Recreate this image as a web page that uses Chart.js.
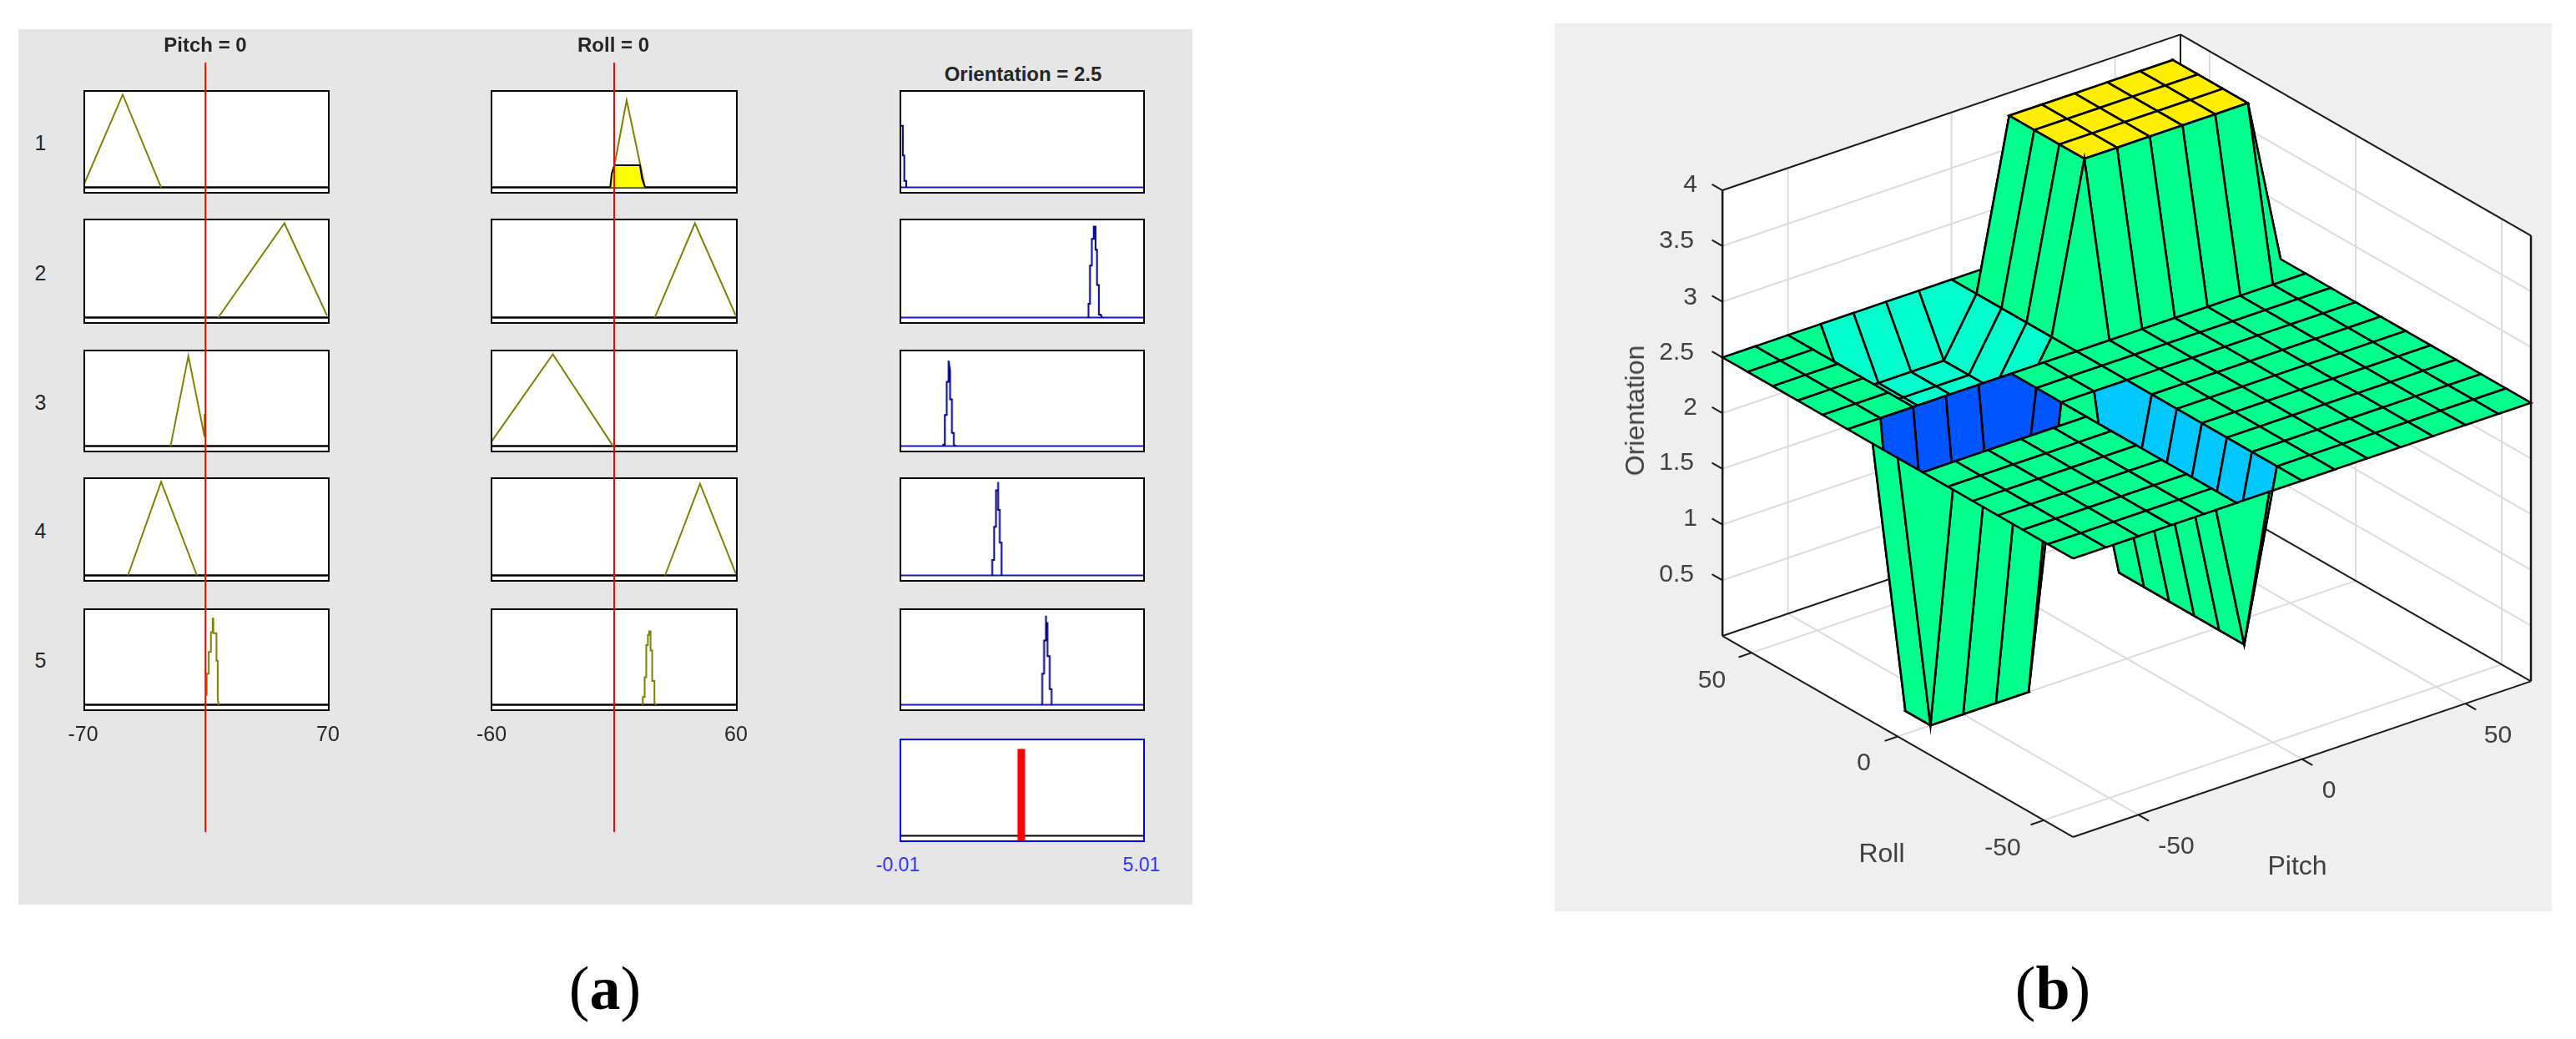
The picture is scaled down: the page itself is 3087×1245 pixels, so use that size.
<!DOCTYPE html>
<html>
<head>
<meta charset="utf-8">
<title>Rule viewer and control surface</title>
<script src="https://cdn.jsdelivr.net/npm/chart.js@4"></script>
<style>
    html, body { margin: 0; padding: 0; background: #fff; }
    #page { position: relative; width: 3087px; height: 1245px; overflow: hidden; }
    #page canvas { position: absolute; }
    .bg { position: absolute; }
    .txt { position: absolute; white-space: nowrap; font-family: "Liberation Sans", Arial, sans-serif; transform: translate(-50%, -50%); line-height: 1; }
</style>
</head>
<body>
<div id="page"></div>
<script>
// ---- Panel (a): membership functions, [input value, degree] per rule row ----
const pitchRange = [-70, 70];
const rollRange = [-60, 60];
const orientationRange = [-0.01, 5.01];
const pitchInput = -0.6;
const rollInput = 0;
const orientationOutput = 2.48;

const pitchRule1 = [[-70, 0.04], [-48, 1], [-26, 0]];
const pitchRule2 = [[6.7, 0], [44.6, 1], [69, 0.02]];
const pitchRule3 = [[-20.6, 0], [-10.4, 0.98], [-1.1, 0.1], [-1.1, 0.35]];
const pitchRule4 = [[-45, 0], [-26, 1], [-5.5, 0]];
const pitchRule5 = [[0.1, 0.1], [0.1, 0.34], [1.3, 0.34], [1.3, 0.577], [2.5, 0.577], [2.5, 0.79], [3.5, 0.79], [3.5, 0.937], [3.9, 0.937], [3.9, 0.78], [5.7, 0.78], [5.7, 0.48], [6.4, 0.48], [6.4, 0.07], [6.9, 0]];

const rollRule1 = [[-1.9, 0], [6.1, 0.94], [15.1, 0]];
const rollRule2 = [[19.9, 0], [39.5, 1], [59.5, 0.02]];
const rollRule3 = [[-60, 0.05], [-30, 1], [-0.5, 0]];
const rollRule4 = [[24.9, 0], [42, 0.98], [59.5, 0.02]];
const rollRule5 = [[14, 0], [14, 0.085], [14.9, 0.085], [14.9, 0.3], [15.7, 0.3], [15.7, 0.65], [16.5, 0.65], [16.5, 0.76], [17.1, 0.76], [17.1, 0.8], [17.8, 0.8], [17.8, 0.59], [18.6, 0.59], [18.6, 0.26], [19.7, 0.26], [19.7, 0.02], [20.7, 0]];
const rollFiring = [[-1.9, 0], [-1.2, 0.15], [0.1, 0.24], [12.6, 0.24], [13.6, 0.1], [15.1, 0]];

const outRule1 = [[-0.01, 0.875], [-0.01, 0.665], [0.04, 0.665], [0.04, 0.344], [0.07, 0.344], [0.07, 0.07], [0.11, 0.07], [0.11, 0]];
const outRule2 = [[3.864, 0], [3.864, 0.145], [3.895, 0.145], [3.895, 0.55], [3.933, 0.55], [3.933, 0.835], [3.973, 0.835], [3.973, 0.965], [4.01, 0.965], [4.01, 0.72], [4.04, 0.72], [4.04, 0.345], [4.08, 0.345], [4.08, 0.03], [4.117, 0.03], [4.14, 0]];
const outRule3 = [[0.875, 0], [0.875, 0.016], [0.906, 0.016], [0.906, 0.34], [0.945, 0.34], [0.945, 0.7], [0.975, 0.7], [0.975, 0.93], [0.99, 0.93], [1.014, 0.82], [1.014, 0.51], [1.052, 0.51], [1.052, 0.145], [1.09, 0.145], [1.09, 0.016], [1.13, 0]];
const outRule4 = [[1.882, 0], [1.882, 0.165], [1.92, 0.165], [1.92, 0.52], [1.96, 0.52], [1.96, 0.91], [2.004, 0.91], [2.004, 1], [2.004, 0.7], [2.036, 0.7], [2.036, 0.35], [2.074, 0.35], [2.074, 0]];
const outRule5 = [[2.912, 0], [2.912, 0.34], [2.95, 0.34], [2.95, 0.7], [2.988, 0.7], [2.988, 0.97], [2.988, 0.89], [3.02, 0.89], [3.02, 0.53], [3.066, 0.53], [3.066, 0.17], [3.104, 0.17], [3.104, 0]];

const ruleNumbers = ['1', '2', '3', '4', '5'];

// ---- Panel (b): control surface, one row of orientation per roll value ----
const pitchGrid = [-70, -60, -50, -40, -30, -20, -10, 0, 10, 20, 30, 40, 50, 60, 70];
const rollGrid = [-60, -51.43, -42.86, -34.29, -25.71, -17.14, -8.57, 0, 8.57, 17.14, 25.71, 34.29, 42.86, 51.43, 60];
const orientationGrid = [
    [2.5, 2.5, 2.5, 2.5, 2.5, 2.5, 2.5, 2.5, 2.5, 2.5, 2.5, 2.5, 2.5, 2.5, 2.5],
    [2.5, 2.5, 2.5, 2.5, 2.5, 2.5, 1, 2.5, 2.5, 2.5, 2.5, 2.5, 2.5, 2.5, 2.5],
    [2.5, 2.5, 2.5, 2.5, 2.5, 2.5, 1, 2.5, 2.5, 2.5, 2.5, 2.5, 2.5, 2.5, 2.5],
    [2.5, 2.5, 2.5, 2.5, 2.5, 2.5, 1, 2.5, 2.5, 2.5, 2.5, 2.5, 2.5, 2.5, 2.5],
    [2.5, 2.5, 2.5, 2.5, 2.5, 2.5, 1, 2.5, 2.5, 2.5, 2.5, 2.5, 2.5, 2.5, 2.5],
    [2.5, 2.5, 2.5, 2.5, 2.5, 2.5, 1, 2.5, 2.5, 2.5, 2.5, 2.5, 2.5, 2.5, 2.5],
    [2.5, 2.5, 2.5, 2.5, 2.5, 2.5, 1, 2.5, 2.5, 2.5, 2.5, 2.5, 2.5, 2.5, 2.5],
    [2.5, 0, 0, 0, 0, 2.5, 2.5, 2.5, 2.5, 2.5, 2.5, 2.5, 2.5, 2.5, 2.5],
    [2.5, 0, 0, 0, 0, 2.5, 2.5, 2.5, 2.5, 2.5, 2.5, 2.5, 2.5, 2.5, 2.5],
    [2.5, 2.5, 2.5, 2.5, 2.5, 2.5, 2.5, 2.5, 2.5, 2.5, 2.5, 2.5, 2.5, 2.5, 2.5],
    [2.5, 2.5, 2.5, 2, 2, 2, 2, 2.5, 4, 4, 4, 4, 4, 4, 2.5],
    [2.5, 2.5, 2.5, 2, 2, 2, 2, 2.5, 4, 4, 4, 4, 4, 4, 2.5],
    [2.5, 2.5, 2.5, 2, 2, 2, 2, 2.5, 4, 4, 4, 4, 4, 4, 2.5],
    [2.5, 2.5, 2.5, 2, 2, 2, 2, 2.5, 4, 4, 4, 4, 4, 4, 2.5],
    [2.5, 2.5, 2.5, 2.5, 2.5, 2.5, 2.5, 2.5, 2.5, 2.5, 2.5, 2.5, 2.5, 2.5, 2.5]
];
const orientationTicks = [0.5, 1, 1.5, 2, 2.5, 3, 3.5, 4];
const pitchTicks = [-50, 0, 50];
const rollTicks = [50, 0, -50];

// Colour of a surface cell comes from the height of its first corner
const surfaceColors = { 0: '#0055ff', 1: '#00c8ff', 2: '#00ffcc', 2.5: '#00ff8c', 4: '#ffee00' };

const OLIVE = '#808000';
const NAVY = '#000080';
const page = document.getElementById('page');

function addBox(left, top, width, height, color) {
    const div = document.createElement('div');
    div.className = 'bg';
    div.style.cssText = `left:${left}px;top:${top}px;width:${width}px;height:${height}px;background:${color}`;
    page.appendChild(div);
}

function addText(text, x, y, size, options) {
    const opts = options || {};
    const div = document.createElement('div');
    div.className = 'txt';
    div.innerHTML = text;
    div.style.left = x + 'px';
    div.style.top = y + 'px';
    div.style.fontSize = size + 'px';
    div.style.color = opts.color || '#262626';
    if (opts.bold) div.style.fontWeight = 'bold';
    if (opts.family) div.style.fontFamily = opts.family;
    if (opts.rotate) div.style.transform = `translate(-50%, -50%) rotate(${opts.rotate}deg)`;
    page.appendChild(div);
}

function addChart(left, top, width, height, config) {
    const canvas = document.createElement('canvas');
    canvas.width = width;
    canvas.height = height;
    canvas.style.left = left + 'px';
    canvas.style.top = top + 'px';
    canvas.style.width = width + 'px';
    canvas.style.height = height + 'px';
    page.appendChild(canvas);
    return new Chart(canvas.getContext('2d'), config);
}

function lineSet(points, color, width, extra) {
    return Object.assign({
        data: points.map(p => ({ x: p[0], y: p[1] })),
        borderColor: color,
        borderWidth: width,
        pointRadius: 0,
        showLine: true,
        tension: 0,
        fill: false
    }, extra || {});
}

const baseOptions = {
    responsive: false,
    animation: false,
    events: [],
    plugins: { legend: { display: false }, tooltip: { enabled: false } }
};

// White face and frame of a small axes box
function framePlugin(color) {
    return {
        id: 'frame',
        beforeDraw(chart) {
            const a = chart.chartArea;
            chart.ctx.fillStyle = '#fff';
            chart.ctx.fillRect(a.left, a.top, a.width, a.height);
        },
        afterDraw(chart) {
            const a = chart.chartArea;
            chart.ctx.strokeStyle = color;
            chart.ctx.lineWidth = 2;
            chart.ctx.strokeRect(a.left, a.top, a.width, a.height);
        }
    };
}

function addRulePanel(left, top, width, height, range, sets, frameColor) {
    const pad = 2;
    return addChart(left - pad, top - pad, width + pad * 2, height + pad * 2, {
        type: 'scatter',
        data: { datasets: sets },
        plugins: [framePlugin(frameColor)],
        options: Object.assign({}, baseOptions, {
            layout: { padding: pad },
            scales: {
                x: { type: 'linear', min: range[0], max: range[1], display: false },
                y: { type: 'linear', min: -0.058, max: 1.04, display: false }
            }
        })
    });
}

function addInputLine(left, width, range, value) {
    return addChart(left, 75, width, 922, {
        type: 'scatter',
        data: { datasets: [lineSet([[value, 0], [value, 1]], '#ff0000', 2)] },
        options: Object.assign({}, baseOptions, {
            layout: { padding: 0 },
            scales: {
                x: { type: 'linear', min: range[0], max: range[1], display: false },
                y: { type: 'linear', min: 0, max: 1, display: false }
            }
        })
    });
}

function drawRuleViewer() {
    addBox(22, 35, 1407, 1049, '#e6e6e6');

    const rowTops = [109, 263, 419.5, 573, 730];
    const rowHeights = [122, 124, 121.5, 123, 121];
    const columns = [
        { left: 100.5, width: 293.5, range: pitchRange, rules: [pitchRule1, pitchRule2, pitchRule3, pitchRule4, pitchRule5], color: OLIVE, base: '#000', baseWidth: 2.5 },
        { left: 589, width: 294, range: rollRange, rules: [rollRule1, rollRule2, rollRule3, rollRule4, rollRule5], color: OLIVE, base: '#000', baseWidth: 2.5 },
        { left: 1079, width: 291.5, range: orientationRange, rules: [outRule1, outRule2, outRule3, outRule4, outRule5], color: NAVY, base: '#1a1ab0', baseWidth: 2 }
    ];

    columns.forEach((col, c) => {
        col.rules.forEach((rule, r) => {
            const sets = [
                lineSet(rule, col.color, 2),
                lineSet([[col.range[0], 0], [col.range[1], 0]], col.base, col.baseWidth)
            ];
            if (c === 1 && r === 0) {
                sets.unshift(lineSet(rollFiring, '#000', 2, { fill: 'origin', backgroundColor: '#ffff00' }));
            }
            addRulePanel(col.left, rowTops[r], col.width, rowHeights[r], col.range, sets, '#000');
        });
    });

    // Aggregated output box
    addRulePanel(1079, 886, 291.5, 121.5, orientationRange, [
        lineSet([[orientationOutput, -0.05], [orientationOutput, 0.937]], '#ff0000', 9),
        lineSet([[orientationRange[0], 0], [orientationRange[1], 0]], '#000', 2)
    ], '#0000ff');

    addInputLine(100.5, 293.5, pitchRange, pitchInput);
    addInputLine(589, 294, rollRange, rollInput);

    addText('Pitch = 0', 246, 53.5, 24, { bold: true });
    addText('Roll = 0', 735, 53.5, 24, { bold: true });
    addText('Orientation = 2.5', 1226, 88.5, 24, { bold: true });
    const rowLabelY = [171, 327, 482, 636, 791];
    ruleNumbers.forEach((label, i) => addText(label, 48.5, rowLabelY[i], 25));
    addText(String(pitchRange[0]), 99.5, 879, 25);
    addText(String(pitchRange[1]), 393, 879, 25);
    addText(String(rollRange[0]), 589, 879, 25);
    addText(String(rollRange[1]), 882, 879, 25);
    addText(String(orientationRange[0]), 1076, 1035.5, 23, { color: '#3333ff' });
    addText(String(orientationRange[1]), 1368, 1035.5, 23, { color: '#3333ff' });
}

// Orthographic view of the surface box, projected into the chart's x/y scales
function project(p, r, z) {
    return [2548.6 + 3.92 * p - 3.5 * r, 789.2 - 1.333 * p - 2.008 * r - 133.5 * z];
}

function drawSurface() {
    addBox(1863, 28, 1195, 1064, '#efefef');

    const pMin = pitchGrid[0], pMax = pitchGrid[14], rMin = rollGrid[0], rMax = rollGrid[14], zTop = 4;
    const back = []; // painted back to front
    const edge = (a, b, color, width) => back.push(lineSet([project(...a), project(...b)], color, width));
    const plane = (corners) => {
        const pts = corners.map(c => project(...c));
        pts.push(pts[0]);
        back.push(lineSet(pts, '#fff', 0, { fill: 'shape', backgroundColor: '#fff' }));
    };

    // Floor and back walls
    plane([[pMin, rMax, 0], [pMax, rMax, 0], [pMax, rMin, 0], [pMin, rMin, 0]]);
    plane([[pMin, rMax, 0], [pMax, rMax, 0], [pMax, rMax, zTop], [pMin, rMax, zTop]]);
    plane([[pMax, rMax, 0], [pMax, rMin, 0], [pMax, rMin, zTop], [pMax, rMax, zTop]]);

    const GRID = '#dcdcdc';
    pitchTicks.forEach(p => {
        edge([p, rMin, 0], [p, rMax, 0], GRID, 2);
        edge([p, rMax, 0], [p, rMax, zTop], GRID, 2);
    });
    rollTicks.forEach(r => {
        edge([pMin, r, 0], [pMax, r, 0], GRID, 2);
        edge([pMax, r, 0], [pMax, r, zTop], GRID, 2);
    });
    orientationTicks.forEach(z => {
        edge([pMin, rMax, z], [pMax, rMax, z], GRID, 2);
        edge([pMax, rMax, z], [pMax, rMin, z], GRID, 2);
    });

    // Box outline
    const BOX = '#1a1a1a';
    edge([pMin, rMax, zTop], [pMax, rMax, zTop], BOX, 2);
    edge([pMax, rMax, zTop], [pMax, rMin, zTop], BOX, 2);
    edge([pMax, rMax, 0], [pMax, rMax, zTop], BOX, 2);
    edge([pMin, rMax, 0], [pMin, rMax, zTop], BOX, 2.5);
    edge([pMax, rMin, 0], [pMax, rMin, zTop], BOX, 2.5);
    edge([pMin, rMax, 0], [pMax, rMax, 0], BOX, 2);
    edge([pMax, rMax, 0], [pMax, rMin, 0], BOX, 2);
    edge([pMin, rMax, 0], [pMin, rMin, 0], BOX, 2);
    edge([pMin, rMin, 0], [pMax, rMin, 0], BOX, 2);

    // Tick marks
    orientationTicks.forEach(z => edge([pMin, rMax, z], [pMin, rMax + 3.6, z], BOX, 2));
    rollTicks.forEach(r => edge([pMin, r, 0], [pMin - 4, r, 0], BOX, 2));
    pitchTicks.forEach(p => edge([p, rMin, 0], [p, rMin - 3.6, 0], BOX, 2));

    // Surface cells, far corner to near corner
    for (let i = pitchGrid.length - 2; i >= 0; i--) {
        for (let j = rollGrid.length - 2; j >= 0; j--) {
            const pts = [
                project(pitchGrid[i], rollGrid[j], orientationGrid[j][i]),
                project(pitchGrid[i + 1], rollGrid[j], orientationGrid[j][i + 1]),
                project(pitchGrid[i + 1], rollGrid[j + 1], orientationGrid[j + 1][i + 1]),
                project(pitchGrid[i], rollGrid[j + 1], orientationGrid[j + 1][i])
            ];
            pts.push(pts[0]);
            back.push(lineSet(pts, '#000', 2.6, {
                fill: 'shape',
                backgroundColor: surfaceColors[orientationGrid[j][i]]
            }));
        }
    }

    addChart(1863, 28, 1195, 1064, {
        type: 'scatter',
        data: { datasets: back.slice().reverse() },
        options: Object.assign({}, baseOptions, {
            layout: { padding: 0 },
            scales: {
                x: { type: 'linear', min: 1863, max: 3058, display: false },
                y: { type: 'linear', min: 28, max: 1092, reverse: true, display: false }
            }
        })
    });

    // Tick labels and axis titles
    const orientationLabelY = [695, 628, 561, 495, 429, 363, 295, 228];
    orientationTicks.forEach((z, i) => {
        const label = String(z);
        addText(label, 2034 - label.length * 8.3, orientationLabelY[i] - 8, 30, { color: '#404040' });
    });
    addText(String(rollTicks[0]), 2051.5, 813.5, 30, { color: '#404040' });
    addText(String(rollTicks[1]), 2233.5, 913, 30, { color: '#404040' });
    addText(String(rollTicks[2]), 2400, 1015, 30, { color: '#404040' });
    addText(String(pitchTicks[0]), 2608, 1013, 30, { color: '#404040' });
    addText(String(pitchTicks[1]), 2791, 946, 30, { color: '#404040' });
    addText(String(pitchTicks[2]), 2993.5, 880, 30, { color: '#404040' });
    addText('Orientation', 1959, 492, 32, { color: '#404040', rotate: -90 });
    addText('Roll', 2255, 1022, 32, { color: '#404040' });
    addText('Pitch', 2753, 1037, 32, { color: '#404040' });
}

drawRuleViewer();
drawSurface();
addText('(<b>a</b>)', 725, 1184, 74, { color: '#000', family: '"Liberation Serif", serif' });
addText('(<b>b</b>)', 2460, 1184, 74, { color: '#000', family: '"Liberation Serif", serif' });
</script>
</body>
</html>
